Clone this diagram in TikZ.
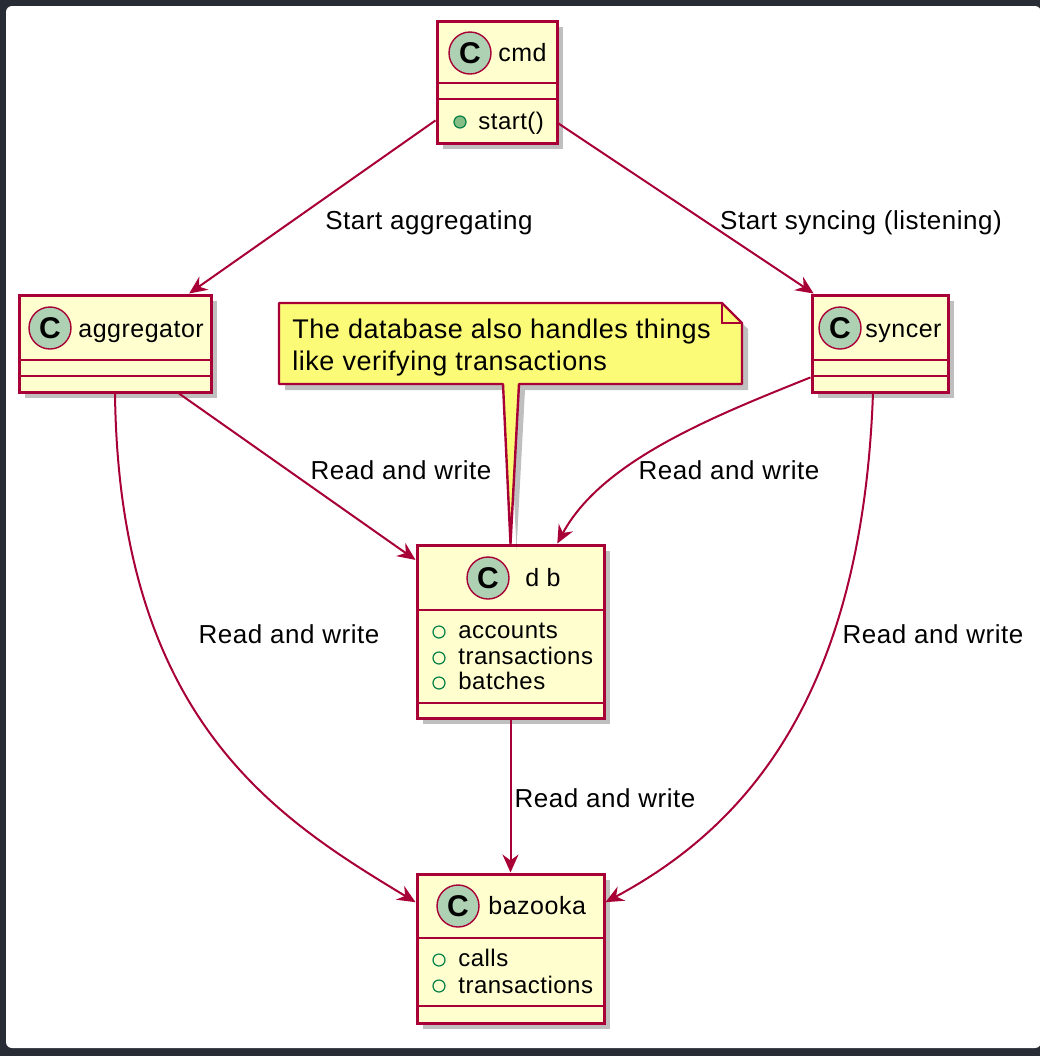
\documentclass[tikz,border=0pt]{standalone}
\usepackage{fontspec}
\setmainfont{Liberation Sans}[LetterSpace=2]
\usetikzlibrary{arrows.meta,shadows,fit,positioning}

\definecolor{umlred}{HTML}{A80036}
\definecolor{classfill}{HTML}{FEFECE}
\definecolor{notefill}{HTML}{FBFB77}
\definecolor{iconfill}{HTML}{ADD1B2}
\definecolor{attrgreen}{HTML}{038048}
\definecolor{dotfill}{HTML}{84BE84}
\definecolor{framebg}{HTML}{282C34}

\tikzset{
  umlshadow/.style={drop shadow={shadow xshift=3pt,shadow yshift=-3pt,opacity=.25,fill=black}},
  classbox/.style={draw=umlred, fill=classfill, line width=1.5pt, inner sep=0pt, umlshadow},
  cicon/.style={circle, draw=umlred, fill=iconfill, line width=0.7pt, minimum size=21pt,
    inner sep=0pt, font=\fontsize{15}{15}\selectfont\bfseries},
  cname/.style={anchor=base west, inner sep=0pt, font=\fontsize{12.5}{15}\selectfont},
  attr/.style={anchor=base west, inner sep=0pt, font=\fontsize{12}{14}\selectfont},
  field/.style={circle, draw=attrgreen, line width=0.6pt, minimum size=6pt, inner sep=0pt},
  method/.style={field, fill=dotfill},
  sep/.style={umlred, line width=1.2pt},
  link/.style={umlred, line width=1pt, -{Stealth[length=9pt,width=8pt,inset=3pt]}},
  lbl/.style={anchor=base, inner sep=0pt, font=\fontsize{13}{15}\selectfont},
}

\begin{document}
\begin{tikzpicture}[x=0.5pt,y=-0.5pt]
    \useasboundingbox (0,0) rectangle (1040,1056);
    
    % frame
    \fill[framebg] (0,0) rectangle (1040,1056);
    \fill[white,rounded corners=3pt] (6,6) rectangle (1041,1048);
    
    % class boxes
    \node[classbox, fit={(437,21) (557,143)}] (cmd) {};
    \node[classbox, fit={(19,295) (211,392)}] (agg) {};
    \node[classbox, fit={(812,295) (948,392)}] (syn) {};
    \node[classbox, fit={(417,545) (604,718)}] (db) {};
    \node[classbox, fit={(417,874) (604,1023)}] (baz) {};
    
    % compartments
    \draw[sep] (cmd.west |- 0,83) -- (cmd.east |- 0,83);
    \draw[sep] (cmd.west |- 0,99) -- (cmd.east |- 0,99);
    \draw[sep] (agg.west |- 0,360) -- (agg.east |- 0,360);
    \draw[sep] (agg.west |- 0,376) -- (agg.east |- 0,376);
    \draw[sep] (syn.west |- 0,360) -- (syn.east |- 0,360);
    \draw[sep] (syn.west |- 0,376) -- (syn.east |- 0,376);
    \draw[sep] (db.west |- 0,610) -- (db.east |- 0,610);
    \draw[sep] (db.west |- 0,703) -- (db.east |- 0,703);
    \draw[sep] (baz.west |- 0,938) -- (baz.east |- 0,938);
    \draw[sep] (baz.west |- 0,1006) -- (baz.east |- 0,1006);
    
    % headers
    \node[cicon] (cmdC) at (470,53) {C};
    \node[cname] (cmdN) at (498,61) {cmd};
    \node[cicon] (aggC) at (50,328) {C};
    \node[cname] (aggN) at (78,337) {aggregator};
    \node[cicon] (synC) at (840,328) {C};
    \node[cname] (synN) at (865,337) {syncer};
    \node[cicon] (dbC) at (488,578) {C};
    \node[cname] (dbN) at (525,586) {d b};
    \node[cicon] (bazC) at (458,906) {C};
    \node[cname] (bazN) at (488,914) {bazooka};
    
    % members
    \node[method] (cmdM1) at (460,122) {};
    \node[attr] (cmdT1) at (478,129) {start()};
    \node[field] (dbF1) at (439,632) {};
    \node[attr] (dbT1) at (458,638) {accounts};
    \node[field] (dbF2) at (439,658) {};
    \node[attr] (dbT2) at (458,664) {transactions};
    \node[field] (dbF3) at (439,683) {};
    \node[attr] (dbT3) at (458,689) {batches};
    \node[field] (bazF1) at (439,960) {};
    \node[attr] (bazT1) at (458,966) {calls};
    \node[field] (bazF2) at (439,986) {};
    \node[attr] (bazT2) at (458,993) {transactions};
    
    % note
    \draw[umlred, fill=notefill, line width=1.2pt, line join=round, umlshadow]
        (279,303) -- (722,303) -- (742,323) -- (742,384) -- (519,384)
        -- (db.north) -- (503,384) -- (279,384) -- cycle;
    \draw[umlred, line width=1.2pt] (722,303) -- (722,323) -- (742,323);
    \node[anchor=north west, inner sep=0pt, align=left,
          font=\fontsize{13.5}{16}\selectfont] (note) at (292,319)
        {The database also handles things\\like verifying transactions};
    
    % connectors
    \draw[link] (cmd.212) -- (agg.34);
    \draw[link] (cmd.326) -- (syn.143);
    \draw[link] (agg.322) -- (db.143);
    \draw[link] (syn.206) .. controls +(-100,40) and +(44,-82) .. (db.62);
    \draw[link] (db.south) -- (baz.north);
    \draw[link] (agg.south) .. controls +(4,328) and +(-137,-83) .. (baz.154);
    \draw[link] (syn.262) .. controls +(-11,308) and +(136,-73) .. (baz.26);
    
    % labels
    \node[lbl] (l1) at (429,229) {Start aggregating};
    \node[lbl] (l2) at (861,229) {Start syncing (listening)};
    \node[lbl] (l3) at (401,479) {Read and write};
    \node[lbl] (l4) at (729,479) {Read and write};
    \node[lbl] (l5) at (289,643) {Read and write};
    \node[lbl] (l6) at (933,643) {Read and write};
    \node[lbl] (l7) at (605,807) {Read and write};
\end{tikzpicture}
\end{document}
